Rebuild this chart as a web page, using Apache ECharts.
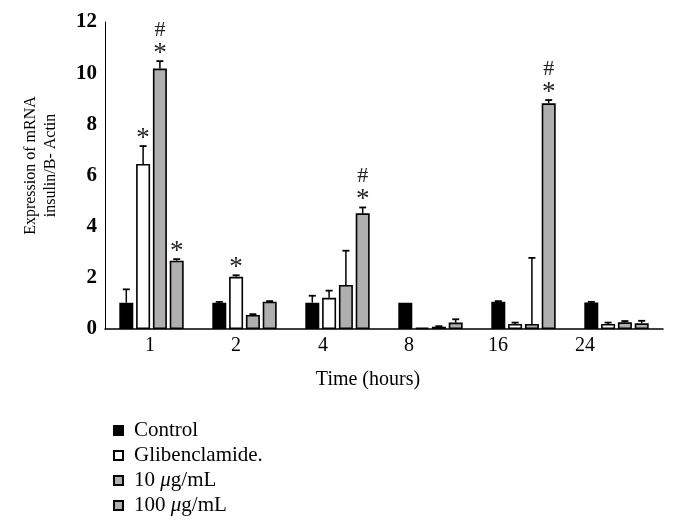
<!DOCTYPE html>
<html>
<head>
<meta charset="utf-8">
<script src="https://cdn.jsdelivr.net/npm/echarts@6/dist/echarts.min.js"></script>
<style>html,body{margin:0;padding:0;background:#fff;}#c{width:675px;height:532px;}</style>
</head>
<body>
<div id="c"></div>
<script>
var categories = ['1', '2', '4', '8', '16', '24'];
var seriesNames = ['Control', 'Glibenclamide.', '10 \u03bcg/mL', '100 \u03bcg/mL'];
var controlVals = [1.03, 1.03, 1.03, 1.03, 1.07, 1.04];
var glibVals    = [6.45, 2.04, 1.22, 0.05, 0.20, 0.20];
var dose10Vals  = [10.18, 0.55, 1.72, 0.09, 0.20, 0.26];
var dose100Vals = [2.67, 1.07, 4.52, 0.25, 8.82, 0.22];
var controlErr  = [0.52, 0.03, 0.27, 0.00, 0.02, 0.02];
var glibErr     = [0.70, 0.06, 0.28, 0.00, 0.05, 0.05];
var dose10Err   = [0.29, 0.03, 1.34, 0.02, 2.58, 0.05];
var dose100Err  = [0.06, 0.02, 0.23, 0.13, 0.13, 0.10];
var controlSig  = ['', '', '', '', '', ''];
var glibSig     = ['*', '*', '', '', '', ''];
var dose10Sig   = ['#\n*', '', '', '', '', ''];
var dose100Sig  = ['*', '', '#\n*', '', '#\n*', ''];
var yTicks = [0, 2, 4, 6, 8, 10, 12];

var SERIF = '"Liberation Serif", "DejaVu Serif", serif';
var vals = [controlVals, glibVals, dose10Vals, dose100Vals];
var errs = [controlErr, glibErr, dose10Err, dose100Err];
var sigs = [controlSig, glibSig, dose10Sig, dose100Sig];
var colors = ['#000000', '#ffffff', '#b0aeae', '#b0aeae'];
var BAR_W = 14, STEP = 14 * 1.2;
var labelPad = [3, 17, 29, 43, 51, 63];

var series = [];
for (var s = 0; s < 4; s++) {
  series.push({
    name: seriesNames[s], type: 'bar', barWidth: BAR_W, barGap: '20%',
    itemStyle: { color: colors[s], borderColor: '#000', borderWidth: 1.6 },
    data: vals[s], z: 2
  });
}
for (var s2 = 0; s2 < 4; s2++) {
  (function (si) {
    var d = categories.map(function (c, i) { return [i, vals[si][i], vals[si][i] + errs[si][i]]; });
    series.push({
      type: 'custom', z: 3, silent: true,
      data: d,
      renderItem: function (params, api) {
        var i = api.value(0);
        var top = api.coord([i, api.value(2)]);
        var base = api.coord([i, api.value(1)]);
        var x = top[0] + (si - 1.5) * STEP;
        var children = [];
        if (api.value(2) - api.value(1) > 0.005) {
          children.push({ type: 'line', shape: { x1: x, y1: base[1], x2: x, y2: top[1] }, style: { stroke: '#000', lineWidth: 1.5 } });
          children.push({ type: 'line', shape: { x1: x - 3.5, y1: top[1], x2: x + 3.5, y2: top[1] }, style: { stroke: '#000', lineWidth: 1.8 } });
        }
        var sig = sigs[si][i];
        if (sig) {
          var lines = sig.split('\n');
          var yy = top[1] - 3;
          for (var k = lines.length - 1; k >= 0; k--) {
            var isStar = lines[k] === '*';
            children.push({ type: 'text', style: { text: lines[k], x: x, y: isStar ? yy + 9 : yy - 1, align: 'center', verticalAlign: 'bottom',
              font: (isStar ? '27px ' : '22px ') + SERIF, fill: '#222' } });
            yy -= 16;
          }
        }
        return { type: 'group', children: children };
      }
    });
  })(s2);
}

var rich = {};
labelPad.forEach(function (p, i) { rich['p' + i] = { padding: [0, p, 0, 0], fontSize: 20, fontFamily: SERIF, color: '#000' }; });

var chart = echarts.init(document.getElementById('c'));
chart.setOption({
  animation: false,
  backgroundColor: '#fff',
  grid: { left: 105, right: 12, top: 22, bottom: 203, containLabel: false },
  legend: {
    orient: 'vertical', left: 108, top: 415, itemWidth: 9, itemHeight: 9, itemGap: 4,
    icon: 'rect', data: seriesNames,
    formatter: function (n) { return n.replace('\u03bc', '{i|\u03bc}'); },
    textStyle: { fontFamily: SERIF, fontSize: 21, color: '#000', padding: [0, 0, 0, 6],
      rich: { i: { fontFamily: SERIF, fontSize: 21, fontStyle: 'italic', color: '#000' } } }
  },
  xAxis: {
    type: 'category', data: categories,
    axisLine: { lineStyle: { color: '#000', width: 1.5 } },
    axisTick: { show: false },
    axisLabel: { margin: 7, formatter: function (v, i) { return '{p' + i + '|' + v + '}'; }, rich: rich },
    name: 'Time (hours)', nameLocation: 'middle', nameGap: 41,
    nameTextStyle: { fontFamily: SERIF, fontSize: 20, color: '#000', padding: [0, 32, 0, 0] }
  },
  yAxis: {
    type: 'value', min: 0, max: 12, interval: 2,
    axisLine: { show: true, lineStyle: { color: '#000', width: 1 } },
    axisTick: { show: false }, splitLine: { show: false },
    axisLabel: { margin: 8, fontFamily: SERIF, fontSize: 21, fontWeight: 'bold', color: '#000',
      formatter: function (v) { return yTicks.indexOf(v) >= 0 ? String(v) : ''; } },
    name: 'Expression of mRNA\ninsulin/B- Actin', nameLocation: 'middle', nameGap: 44, nameRotate: 90,
    nameTextStyle: { fontFamily: SERIF, fontSize: 16, color: '#000', lineHeight: 20, padding: [0, 0, 0, 20] }
  },
  series: series
});
</script>
</body>
</html>
